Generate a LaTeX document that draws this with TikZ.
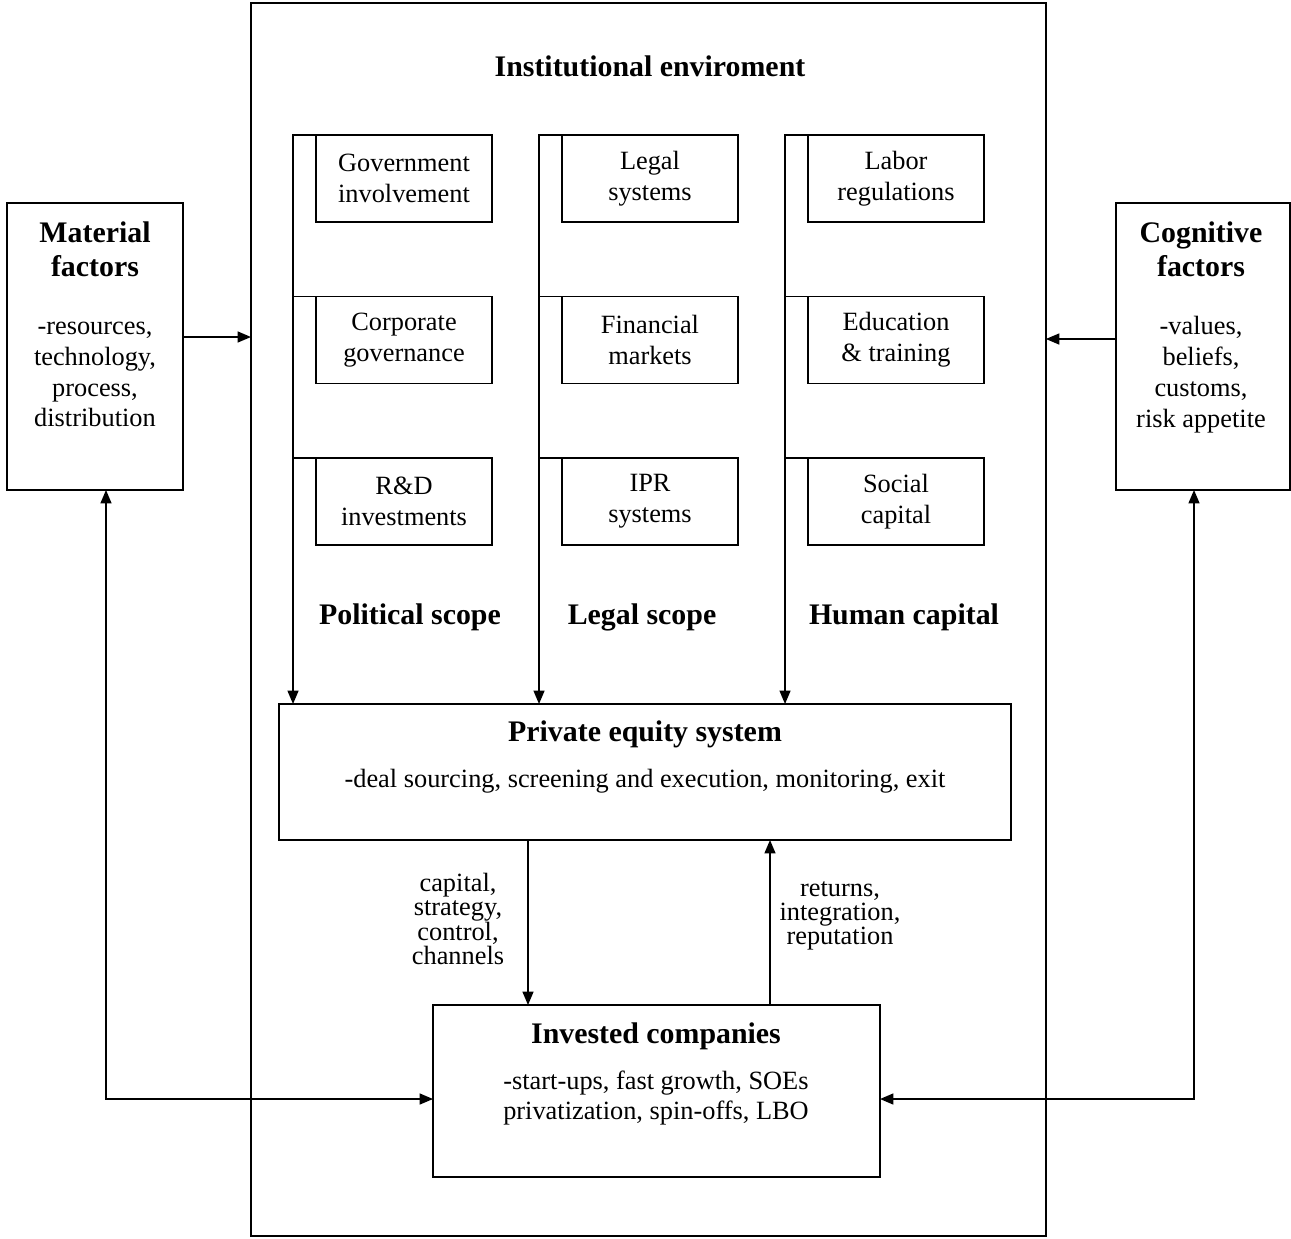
\documentclass[tikz,border=0pt]{standalone}
\usepackage{fontspec}
\setmainfont{Liberation Serif}
\usetikzlibrary{positioning,arrows.meta}

\begin{document}
\begin{tikzpicture}[x=0.02cm,y=-0.02cm,line width=0.9pt,
  every node/.append style={outer sep=0pt},
  >={Triangle[length=0.27cm,width=0.22cm]},
  box/.style={draw, minimum width=3.52cm, minimum height=1.74cm, align=center,
    font=\fontsize{15}{17.6}\selectfont},
  head/.style={align=center, font=\fontsize{17}{19.5}\selectfont\bfseries},
  body/.style={align=center, font=\fontsize{15}{17.6}\selectfont},
  small/.style={align=center, font=\fontsize{15}{13.6}\selectfont}]
\useasboundingbox (0,0) rectangle (1291,1238);
% frame
\node[draw, minimum width=15.9cm, minimum height=24.66cm, anchor=north west] (env) at (251,3) {};
\node[head] (title) at (650,66) {Institutional enviroment};
% columns
\node[box] (gov) at (404,178.5) {Government\\involvement};
\node[box] (corp) at (404,340) {Corporate\\governance};
\node[box] (rd) at (404,501.5) {R\&D\\investments};
\node[box] (legal) at (650,178.5) {Legal\\systems};
\node[box] (fin) at (650,340) {Financial\\markets};
\node[box] (ipr) at (650,501.5) {IPR\\systems};
\node[box] (labor) at (896,178.5) {Labor\\regulations};
\node[box] (edu) at (896,340) {Education\\\& training};
\node[box] (social) at (896,501.5) {Social\\capital};
\node[head] (polscope) at (410,617) {Political scope};
\node[head] (legscope) at (642,617) {Legal scope};
\node[head] (humcap) at (904,617) {Human capital};
% private equity
\node[draw, minimum width=14.64cm, minimum height=2.72cm] (pe) at (645,772) {};
\node[head] (petitle) at (645,734) {Private equity system};
\node[body] (petext) at (645,781) {-deal sourcing, screening and execution, monitoring, exit};
% invested companies
\node[draw, minimum width=8.94cm, minimum height=3.44cm] (inv) at (656.5,1091) {};
\node[head] (invtitle) at (656,1036) {Invested companies};
\node[body] (invtext) at (656,1098) {-start-ups, fast growth, SOEs\\privatization, spin-offs, LBO};
% side boxes
\node[draw, minimum width=3.52cm, minimum height=5.74cm] (mat) at (95,346.5) {};
\node[head] (mattitle) at (95,249) {Material\\factors};
\node[body] (mattext) at (95,374.5) {-resources,\\technology,\\process,\\distribution};
\node[draw, minimum width=3.48cm, minimum height=5.74cm] (cog) at (1203,346.5) {};
\node[head] (cogtitle) at (1201,249) {Cognitive\\factors};
\node[body] (cogtext) at (1201,374.5) {-values,\\beliefs,\\customs,\\risk appetite};
% column lines
\foreach \a/\b/\c in {gov/corp/rd, legal/fin/ipr, labor/edu/social}{
  \draw[->] (\a.north west) -- ++(-23,0) coordinate (t\a) -- (t\a |- pe.north);
  \draw (\b.north west) -- ++(-23,0);
  \draw (\c.north west) -- ++(-23,0);
}
% flows
\coordinate (dn) at (528,0);
\coordinate (up) at (770,0);
\draw[->] (dn |- pe.south) -- (dn |- inv.north);
\draw[->] (up |- inv.north) -- (up |- pe.south);
\node[small] (give) at (458,919) {capital,\\strategy,\\control,\\channels};
\node[small] (back) at (840,916) {returns,\\integration,\\reputation};
\coordinate (ml) at (0,337);
\coordinate (cl) at (0,339);
\draw[->] (ml -| mat.east) -- (ml -| env.west);
\draw[->] (cl -| cog.west) -- (cl -| env.east);
\coordinate (mx) at (106,1099);
\coordinate (cx) at (1194,1099);
\draw[<->] (mx |- mat.south) -- (mx) -- (mx -| inv.west);
\draw[<->] (cx |- cog.south) -- (cx) -- (cx -| inv.east);
\end{tikzpicture}
\end{document}
